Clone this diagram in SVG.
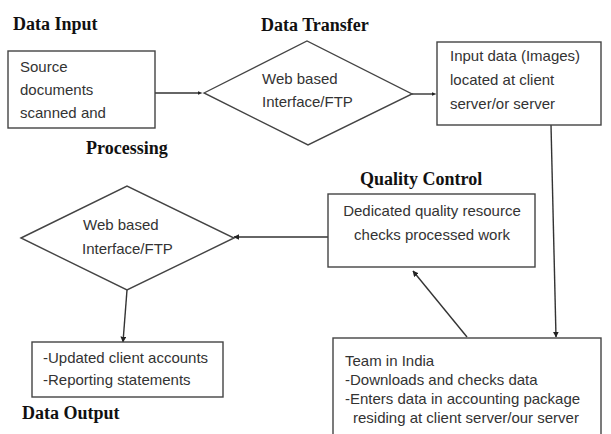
<svg xmlns="http://www.w3.org/2000/svg" width="611" height="434" viewBox="0 0 611 434">
<defs>
<marker id="ah" viewBox="0 0 10 10" refX="9" refY="5" markerWidth="6" markerHeight="6" markerUnits="userSpaceOnUse" orient="auto">
<path d="M0,0 L10,5 L0,10 z" fill="#222"/>
</marker>
<marker id="dot" viewBox="0 0 10 10" refX="5" refY="5" markerWidth="5" markerHeight="5" markerUnits="userSpaceOnUse" orient="auto">
<path d="M0,1 L10,5 L0,9 z" fill="#222"/>
</marker>
</defs>
<style>
.box{fill:#fff;stroke:#444;stroke-width:1.4}
.ln{fill:none;stroke:#333;stroke-width:1.4}
.t{font-family:"Liberation Sans",Arial,sans-serif;font-size:15px;fill:#333}
.h{font-family:"Liberation Serif","Times New Roman",serif;font-size:18px;font-weight:bold;fill:#111}
</style>
<rect width="611" height="434" fill="#fff"/>
<g id="connectors">
<path class="ln" d="M155,93 L200,93" marker-end="url(#dot)"/>
<path class="ln" d="M412,94 L434,94" marker-end="url(#dot)"/>
<path class="ln" d="M551,125 L556,337" marker-end="url(#ah)"/>
<path class="ln" d="M467,337 L413,271" marker-end="url(#ah)"/>
<path class="ln" d="M328,237 L234,237" marker-end="url(#ah)"/>
<path class="ln" d="M127,290 L123,342" marker-end="url(#ah)"/>
</g>
<g id="data-input">
<text class="h" x="13" y="30">Data Input</text>
<rect class="box" x="8" y="51" width="147" height="77"/>
<text class="t" x="20" y="72">Source</text>
<text class="t" x="20" y="95">documents</text>
<text class="t" x="20" y="118">scanned and</text>
<text class="h" x="86" y="154">Processing</text>
</g>
<g id="data-transfer">
<text class="h" x="261" y="31">Data Transfer</text>
<polygon class="box" points="204,93 307,41 412,94 308,145"/>
<text class="t" x="262" y="84">Web based</text>
<text class="t" x="262" y="107">Interface/FTP</text>
</g>
<g id="input-data">
<rect class="box" x="437" y="42" width="164" height="83"/>
<text class="t" x="450" y="61">Input data (Images)</text>
<text class="t" x="450" y="85">located at client</text>
<text class="t" x="450" y="109">server/or server</text>
</g>
<g id="quality-control">
<text class="h" x="360" y="185">Quality Control</text>
<rect class="box" x="328" y="194" width="207" height="73"/>
<text class="t" x="432" y="216" text-anchor="middle">Dedicated quality resource</text>
<text class="t" x="432" y="240" text-anchor="middle">checks processed work</text>
</g>
<g id="web-interface-2">
<polygon class="box" points="21,238 127,186 234,238 127,290"/>
<text class="t" x="83" y="230">Web based</text>
<text class="t" x="82" y="254">Interface/FTP</text>
</g>
<g id="data-output">
<rect class="box" x="32" y="342" width="191" height="55"/>
<text class="t" x="43" y="363">-Updated client accounts</text>
<text class="t" x="43" y="385">-Reporting statements</text>
<text class="h" x="22" y="419">Data Output</text>
</g>
<g id="team-india">
<rect class="box" x="333" y="338" width="268" height="110"/>
<text class="t" x="345" y="366">Team in India</text>
<text class="t" x="345" y="385">-Downloads and checks data</text>
<text class="t" x="345" y="404">-Enters data in accounting package</text>
<text class="t" x="353" y="423">residing at client server/our server</text>
</g>
</svg>
